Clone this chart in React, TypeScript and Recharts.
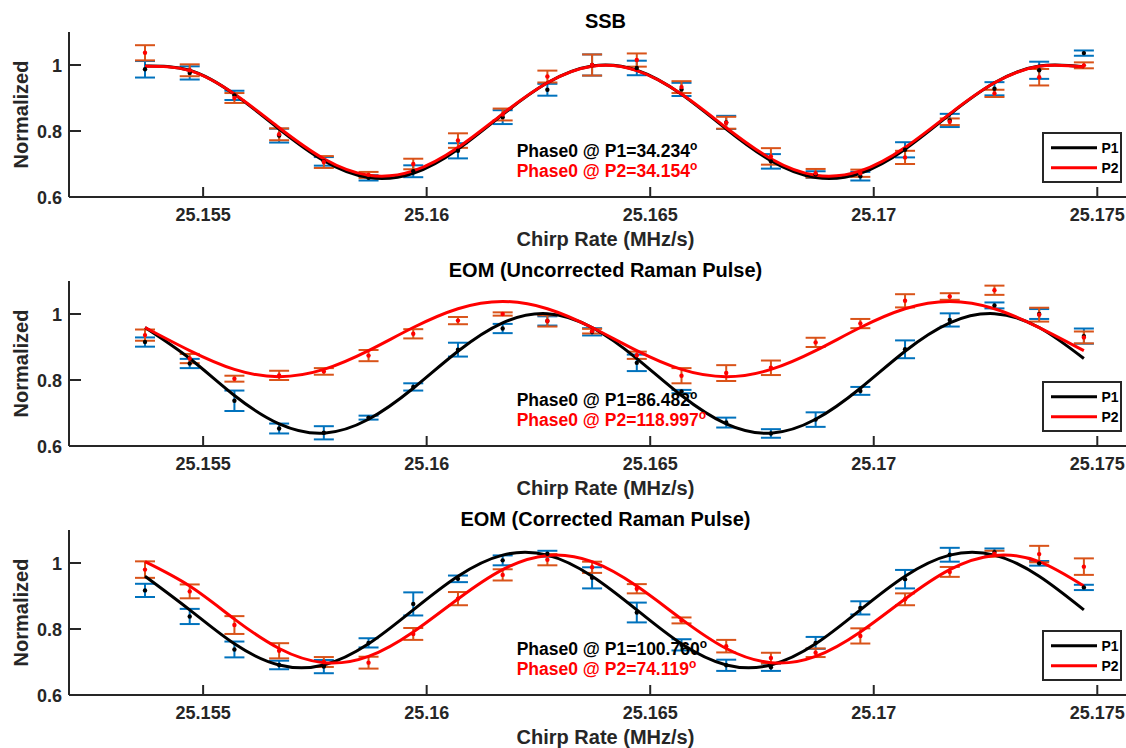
import React from 'react'
import { ComposedChart, Scatter, Line, XAxis, YAxis, ErrorBar } from 'recharts'

// chirp rate (MHz/s) of every measured point
const chirpRate = [
  25.1537, 25.1547, 25.1557, 25.1567, 25.1577, 25.1587, 25.1597, 25.1607, 25.1617, 25.1627, 25.1637,
  25.1647, 25.1657, 25.1667, 25.1677, 25.1687, 25.1697, 25.1707, 25.1717, 25.1727, 25.1737, 25.1747,
]
const xTicks = [25.155, 25.16, 25.165, 25.17, 25.175]
const yTicks = [0.6, 0.8, 1]

// SSB
const ssbP1 = [0.987, 0.976, 0.908, 0.786, 0.708, 0.658, 0.678, 0.74, 0.842, 0.925, 1.0, 0.991, 0.926, 0.826, 0.708, 0.668, 0.663, 0.743, 0.832, 0.928, 0.984, 1.036]
const ssbP1Err = [0.025, 0.02, 0.014, 0.021, 0.013, 0.008, 0.018, 0.023, 0.021, 0.018, 0.032, 0.022, 0.02, 0.02, 0.022, 0.01, 0.013, 0.023, 0.02, 0.02, 0.026, 0.008]
const ssbP2 = [1.037, 0.984, 0.9, 0.79, 0.706, 0.667, 0.7, 0.771, 0.85, 0.965, 1.0, 1.015, 0.933, 0.825, 0.723, 0.672, 0.672, 0.72, 0.828, 0.914, 0.963, 0.999]
const ssbP2Err = [0.023, 0.018, 0.015, 0.018, 0.018, 0.009, 0.016, 0.022, 0.018, 0.018, 0.032, 0.02, 0.018, 0.018, 0.025, 0.013, 0.011, 0.02, 0.01, 0.011, 0.025, 0.009]
const ssbFit1 = [0.997, 0.984, 0.911, 0.806, 0.71, 0.659, 0.672, 0.745, 0.85, 0.946, 0.997, 0.984, 0.911, 0.806, 0.71, 0.659, 0.672, 0.745, 0.85, 0.946, 0.997, 0.995]
const ssbFit2 = [0.996, 0.983, 0.912, 0.81, 0.716, 0.666, 0.679, 0.75, 0.852, 0.946, 0.996, 0.983, 0.912, 0.81, 0.716, 0.666, 0.679, 0.75, 0.852, 0.946, 0.996, 0.994]

// EOM, uncorrected Raman pulse
const uncP1 = [0.915, 0.85, 0.737, 0.653, 0.64, 0.686, 0.779, 0.892, 0.956, 0.979, 0.946, 0.852, 0.765, 0.671, 0.638, 0.68, 0.767, 0.893, 0.982, 1.026, 1.0, 0.933]
const uncP1Err = [0.014, 0.014, 0.031, 0.015, 0.02, 0.006, 0.011, 0.021, 0.014, 0.014, 0.011, 0.025, 0.005, 0.015, 0.013, 0.022, 0.012, 0.027, 0.02, 0.009, 0.015, 0.023]
const uncP2 = [0.936, 0.865, 0.804, 0.814, 0.826, 0.874, 0.94, 0.98, 1.0, 0.979, 0.948, 0.875, 0.813, 0.821, 0.837, 0.914, 0.971, 1.04, 1.053, 1.072, 0.998, 0.929]
const uncP2Err = [0.017, 0.014, 0.009, 0.014, 0.01, 0.017, 0.014, 0.011, 0.005, 0.017, 0.007, 0.011, 0.023, 0.024, 0.022, 0.014, 0.014, 0.02, 0.01, 0.014, 0.021, 0.018]
const uncFit1 = [0.959, 0.865, 0.753, 0.667, 0.639, 0.681, 0.775, 0.887, 0.973, 1.001, 0.959, 0.865, 0.753, 0.667, 0.639, 0.681, 0.775, 0.887, 0.973, 1.001, 0.959, 0.865]
const uncFit2 = [0.959, 0.889, 0.832, 0.81, 0.832, 0.889, 0.959, 1.016, 1.038, 1.016, 0.959, 0.889, 0.832, 0.81, 0.832, 0.889, 0.959, 1.016, 1.038, 1.016, 0.959, 0.889]

// EOM, corrected Raman pulse
const corP1 = [0.917, 0.838, 0.738, 0.691, 0.686, 0.758, 0.876, 0.952, 1.008, 1.028, 0.955, 0.85, 0.752, 0.69, 0.684, 0.758, 0.864, 0.951, 1.025, 1.033, 0.999, 0.926]
const corP1Err = [0.02, 0.023, 0.024, 0.013, 0.02, 0.014, 0.035, 0.01, 0.015, 0.009, 0.032, 0.03, 0.017, 0.017, 0.011, 0.018, 0.02, 0.028, 0.021, 0.011, 0.007, 0.008]
const corP2 = [0.98, 0.914, 0.812, 0.734, 0.7, 0.698, 0.785, 0.892, 0.964, 1.01, 0.987, 0.922, 0.826, 0.748, 0.712, 0.728, 0.779, 0.89, 0.973, 1.028, 1.027, 0.989]
const corP2Err = [0.025, 0.021, 0.027, 0.023, 0.015, 0.018, 0.018, 0.02, 0.017, 0.017, 0.017, 0.014, 0.009, 0.019, 0.016, 0.013, 0.023, 0.018, 0.015, 0.009, 0.025, 0.025]
const corFit1 = [0.96, 0.858, 0.755, 0.691, 0.691, 0.755, 0.858, 0.96, 1.024, 1.024, 0.96, 0.858, 0.755, 0.691, 0.691, 0.755, 0.858, 0.96, 1.024, 1.024, 0.96, 0.858]
const corFit2 = [1.004, 0.93, 0.83, 0.741, 0.698, 0.717, 0.791, 0.891, 0.98, 1.023, 1.004, 0.93, 0.83, 0.741, 0.698, 0.717, 0.791, 0.891, 0.98, 1.023, 1.004, 0.93]

const panels = [
  { title: 'SSB', p1: ssbP1, e1: ssbP1Err, p2: ssbP2, e2: ssbP2Err, f1: ssbFit1, f2: ssbFit2, phase1: '34.234', phase2: '34.154' },
  { title: 'EOM (Uncorrected Raman Pulse)', p1: uncP1, e1: uncP1Err, p2: uncP2, e2: uncP2Err, f1: uncFit1, f2: uncFit2, phase1: '86.482', phase2: '118.997' },
  { title: 'EOM (Corrected Raman Pulse)', p1: corP1, e1: corP1Err, p2: corP2, e2: corP2Err, f1: corFit1, f2: corFit2, phase1: '100.760', phase2: '74.119' },
]

const FONT = '"Liberation Sans", Arial, Helvetica, sans-serif'
const AXIS = '#262626'
const BLUE = '#0072BD'
const ORANGE = '#D95319'
const STEP = 249

function BottomTick({ x, y, payload }: any) {
  return (
    <g>
      <line x1={x} x2={x} y1={y} y2={y - 10} stroke={AXIS} strokeWidth={2} />
      <text x={x} y={y + 24} textAnchor="middle" fontSize={18} fontWeight="bold" fontFamily={FONT} fill={AXIS}>
        {payload.value}
      </text>
    </g>
  )
}

function TopTick({ x, y }: any) {
  return <line x1={x} x2={x} y1={y} y2={y + 10} stroke={AXIS} strokeWidth={2} />
}

function LeftTick({ x, y, payload }: any) {
  return (
    <g>
      <line x1={x} x2={x + 12} y1={y} y2={y} stroke={AXIS} strokeWidth={2} />
      <text x={x - 7} y={y + 6.5} textAnchor="end" fontSize={18} fontWeight="bold" fontFamily={FONT} fill={AXIS}>
        {payload.value}
      </text>
    </g>
  )
}

const dot = (color: string) => (props: any) => <circle cx={props.cx} cy={props.cy} r={2.2} fill={color} />

function Panel({ p }: { p: (typeof panels)[number] }) {
  const rows = chirpRate.map((x, i) => ({ x, p1: p.p1[i], e1: p.e1[i], p2: p.p2[i], e2: p.e2[i], f1: p.f1[i], f2: p.f2[i] }))
  return (
    <ComposedChart width={1160} height={STEP} data={rows} margin={{ top: 32, right: 18, bottom: 0, left: 0 }}>
      <XAxis
        dataKey="x"
        type="number"
        domain={[25.152, 25.176]}
        ticks={xTicks}
        height={52}
        tickSize={0}
        tickMargin={0}
        tickLine={false}
        axisLine={{ stroke: AXIS, strokeWidth: 2 }}
        tick={<BottomTick />}
        interval={0}
      />
      <XAxis
        xAxisId="top"
        orientation="top"
        dataKey="x"
        type="number"
        domain={[25.152, 25.176]}
        ticks={xTicks}
        height={0}
        tickSize={0}
        tickMargin={0}
        tickLine={false}
        axisLine={{ stroke: AXIS, strokeWidth: 2 }}
        tick={<TopTick />}
        interval={0}
      />
      <YAxis
        type="number"
        domain={[0.6, 1.1]}
        ticks={yTicks}
        width={69}
        tickSize={0}
        tickMargin={0}
        tickLine={false}
        axisLine={{ stroke: AXIS, strokeWidth: 2 }}
        tick={<LeftTick />}
        interval={0}
      />
      <Scatter dataKey="p1" fill="#000" shape={dot('#000')} isAnimationActive={false}>
        <ErrorBar dataKey="e1" direction="y" width={10} stroke={BLUE} strokeWidth={2} />
      </Scatter>
      <Scatter dataKey="p2" fill="#f00" shape={dot('#ff0000')} isAnimationActive={false}>
        <ErrorBar dataKey="e2" direction="y" width={10} stroke={ORANGE} strokeWidth={2} />
      </Scatter>
      <Line dataKey="f1" type="natural" stroke="#000" strokeWidth={3} dot={false} activeDot={false} isAnimationActive={false} />
      <Line dataKey="f2" type="natural" stroke="#ff0000" strokeWidth={3} dot={false} activeDot={false} isAnimationActive={false} />
    </ComposedChart>
  )
}

function Texts({ p, k }: { p: (typeof panels)[number]; k: number }) {
  const dy = k * STEP
  const bold = { fontFamily: FONT, fontWeight: 'bold' as const }
  return (
    <g>
      <text x={605.5} y={27.5 + dy} textAnchor="middle" fontSize={20} fill="#000" {...bold}>
        {p.title}
      </text>
      <text x={605.5} y={246 + dy} textAnchor="middle" fontSize={20} fill={AXIS} {...bold}>
        Chirp Rate (MHz/s)
      </text>
      <text x={28} y={114.5 + dy} transform={`rotate(-90 28 ${114.5 + dy})`} textAnchor="middle" fontSize={20} fill={AXIS} {...bold}>
        Normalized
      </text>
      <text x={516.7} y={157 + dy} fontSize={17.5} fill="#000" {...bold}>
        Phase0 @ P1={p.phase1}
        <tspan fontSize={12} dy={-7}>o</tspan>
      </text>
      <text x={516.7} y={177 + dy} fontSize={17.5} fill="#ff0000" {...bold}>
        Phase0 @ P2={p.phase2}
        <tspan fontSize={12} dy={-7}>o</tspan>
      </text>
      <rect x={1043} y={133 + dy} width={78} height={49} fill="#fff" stroke={AXIS} strokeWidth={2} />
      <line x1={1051} x2={1097} y1={147.7 + dy} y2={147.7 + dy} stroke="#000" strokeWidth={3} />
      <line x1={1051} x2={1097} y1={167.7 + dy} y2={167.7 + dy} stroke="#ff0000" strokeWidth={3} />
      <text x={1101.5} y={152.5 + dy} fontSize={14} fill="#000" {...bold}>P1</text>
      <text x={1101.5} y={172.5 + dy} fontSize={14} fill="#000" {...bold}>P2</text>
    </g>
  )
}

export default function App() {
  return (
    <div style={{ position: 'absolute', left: 0, top: 0, width: 1126, height: 748, overflow: 'hidden', background: '#fff' }}>
      {panels.map((p, k) => (
        <div key={p.title} style={{ position: 'absolute', left: 0, top: k * STEP }}>
          <Panel p={p} />
        </div>
      ))}
      <svg width={1126} height={748} style={{ position: 'absolute', left: 0, top: 0, pointerEvents: 'none' }}>
        {panels.map((p, k) => (
          <Texts key={p.title} p={p} k={k} />
        ))}
      </svg>
    </div>
  )
}
